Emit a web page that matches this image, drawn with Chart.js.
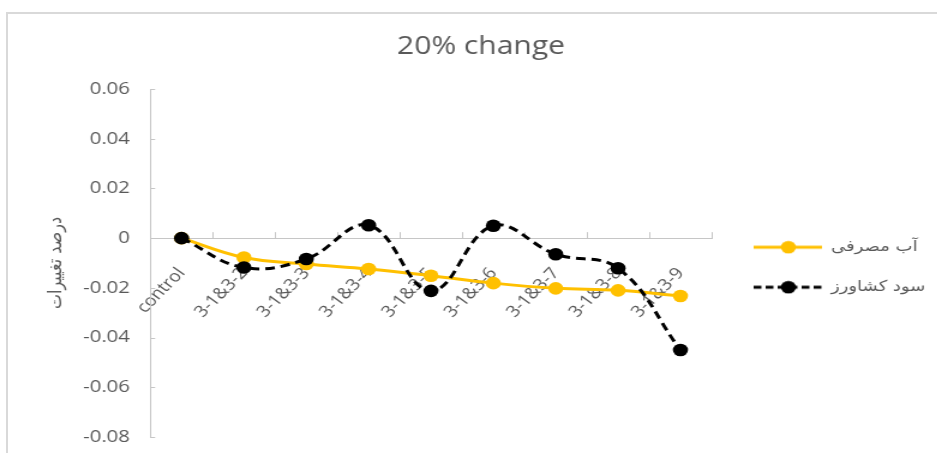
<!DOCTYPE html>
<html><head><meta charset="utf-8">
<script src="https://cdn.jsdelivr.net/npm/chart.js@4.4.0/dist/chart.umd.min.js"></script>
<style>
html,body{margin:0;padding:0;background:#fff;overflow:hidden;width:937px;height:453px;}
#frame{position:absolute;left:6px;top:12px;width:1000px;height:1000px;border-left:2px solid #d9d9d9;border-top:2px solid #d9d9d9;}
#wrap{position:absolute;left:0;top:0;width:781px;height:453px;transform:scaleX(1.2);transform-origin:0 0;}
</style></head><body>
<div id="frame"></div>
<div id="wrap"><canvas id="c" width="781" height="453"></canvas></div>
<script>
const categories = ['control','3-1&3-2','3-1&3-3','3-1&3-4','3-1&3-5','3-1&3-6','3-1&3-7','3-1&3-8','3-1&3-9'];
const waterUse = [0, -0.0078, -0.0104, -0.0124, -0.0151, -0.0181, -0.0202, -0.0210, -0.0233];
const farmerProfit = [0, -0.0118, -0.0084, 0.0052, -0.0212, 0.0050, -0.0065, -0.0121, -0.0450];
const seriesNames = ['آب مصرفی', 'سود کشاورز'];
const yMin = -0.08, yMax = 0.06, yStep = 0.02;
const chartTitle = '20% change';
const yTitle = 'درصد تغییرات';

const GRAY = '#595959';
const AXIS = '#c6c6c6';

function legendIcon(color, dashed) {
  const c = document.createElement('canvas');
  c.width = 67; c.height = 14;
  const g = c.getContext('2d');
  g.strokeStyle = color; g.lineWidth = 3;
  if (dashed) g.setLineDash([6.5, 3.5]);
  g.beginPath(); g.moveTo(10, 7); g.lineTo(67, 7); g.stroke();
  g.setLineDash([]);
  g.fillStyle = color;
  g.beginPath(); g.arc(39, 7, 6.3, 0, Math.PI * 2); g.fill();
  return c;
}
const icons = [legendIcon('#FFC000', false), legendIcon('#000000', true)];

const innerTicks = {
  id: 'innerTicks',
  beforeDatasetsDraw(chart) {
    const {ctx, scales: {x, y}} = chart;
    ctx.save();
    ctx.strokeStyle = AXIS; ctx.lineWidth = 1;
    const y0 = y.getPixelForValue(0);
    ctx.beginPath();
    for (let i = 1; i <= categories.length; i++) {
      const px = Math.round(x.getPixelForValue(i - 0.5)) + 0.5;
      ctx.moveTo(px, y0); ctx.lineTo(px, y0 - 6);
    }
    y.ticks.forEach((t, i) => {
      const py = Math.round(y.getPixelForTick(i)) + 0.5;
      ctx.moveTo(y.right, py); ctx.lineTo(y.right + 4, py);
    });
    ctx.stroke();
    ctx.restore();
  }
};

new Chart(document.getElementById('c'), {
  type: 'line',
  data: {
    labels: categories,
    datasets: [
      {label: seriesNames[0], data: waterUse, borderColor: '#FFC000', backgroundColor: '#FFC000',
       pointBackgroundColor: '#FFC000', pointBorderWidth: 0, pointRadius: 6.3, pointHoverRadius: 6.3,
       borderWidth: 3, tension: 0.4, order: 1},
      {label: seriesNames[1], data: farmerProfit, borderColor: '#000000', backgroundColor: '#000000',
       pointBackgroundColor: '#000000', pointBorderWidth: 0, pointRadius: 6.3, pointHoverRadius: 6.3,
       borderWidth: 3, borderDash: [8, 5], tension: 0.4, order: 0}
    ]
  },
  options: {
    responsive: false, animation: false, devicePixelRatio: 1,
    layout: {padding: {left: 20.6, right: 0, top: 0, bottom: 16}},
    plugins: {
      tooltip: {enabled: false},
      title: {display: true, text: chartTitle, color: GRAY,
        font: {family: 'Open Sans', size: 25, weight: 'normal'}, padding: {top: 32, bottom: 27}},
      legend: {
        position: 'right', maxWidth: 188, fullSize: false,
        title: {display: true, text: ' ', padding: 0, font: {size: 7}},
        labels: {
          usePointStyle: true, pointStyleWidth: 67, padding: 25, color: GRAY,
          font: {family: 'DejaVu Sans', size: 15},
          generateLabels: (chart) => chart.data.datasets.map((ds, i) => ({
            text: ds.label, pointStyle: icons[i], fillStyle: ds.borderColor, strokeStyle: ds.borderColor,
            lineWidth: 0, hidden: false, datasetIndex: i, fontColor: GRAY
          }))
        }
      }
    },
    scales: {
      x: {
        type: 'category', position: {y: 0}, offset: true,
        grid: {display: false, drawTicks: false},
        border: {display: true, color: AXIS, width: 1},
        ticks: {color: GRAY, font: {family: 'Open Sans', size: 16}, minRotation: 50, maxRotation: 50,
          padding: 26, autoSkip: false}
      },
      y: {
        min: yMin, max: yMax,
        grid: {display: false, drawTicks: true, tickLength: 14},
        border: {display: true, color: AXIS, width: 1},
        ticks: {stepSize: yStep, color: GRAY, font: {family: 'Open Sans', size: 17}, padding: 3,
          callback: (v) => String(+Number(v).toFixed(2))},
        title: {display: true, text: yTitle, color: GRAY, font: {family: 'DejaVu Sans', size: 16},
          padding: {top: 16.8, bottom: 9.6}}
      }
    }
  },
  plugins: [innerTicks]
});
</script>
</body></html>
